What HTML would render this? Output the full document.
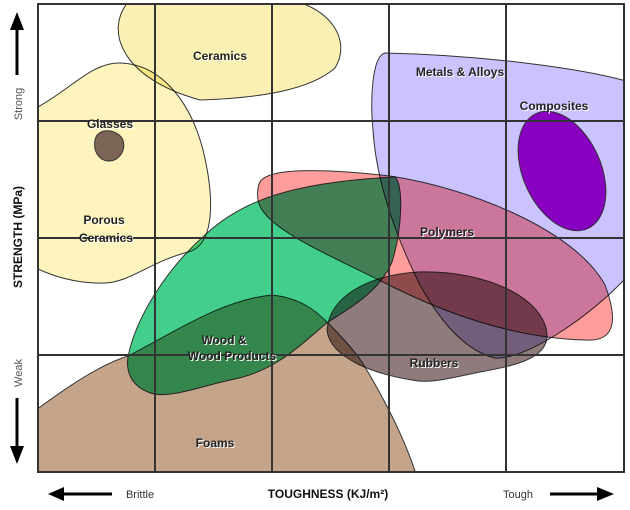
<!DOCTYPE html>
<html><head><meta charset="utf-8"><style>
html,body{margin:0;padding:0;background:#fff;width:630px;height:510px;overflow:hidden}
svg text{font-family:"Liberation Sans",sans-serif}
.l{font-weight:bold;font-size:12px;fill:#222;paint-order:stroke;stroke:#fff;stroke-width:0}
.sh{fill:#fff}
</style></head><body>
<svg width="630" height="510" viewBox="0 0 630 510" xmlns="http://www.w3.org/2000/svg">
<defs>
<clipPath id="plot"><rect x="38" y="4" width="586" height="468"/></clipPath>
</defs>
<g clip-path="url(#plot)" stroke="#333" stroke-width="1">
<g style="isolation:isolate">
<!-- Ceramics -->
<path d="M128,2 C105,30 120,78 200,100 C260,98 310,90 335,68 C352,40 330,8 290,0 Z" fill="#fbf0b4" style="mix-blend-mode:multiply"/>
<!-- Porous ceramics -->
<path d="M36,108 C70,90 92,62 120,63 C160,64 190,100 203,150 C214,195 216,245 188,252 C150,262 130,282 105,283 C75,284 50,275 36,268 Z" fill="#fdf5bd" style="mix-blend-mode:multiply"/>
<!-- Glasses -->
<path d="M95,140 C97,128 115,128 122,138 C128,150 118,162 108,161 C98,160 93,150 95,140 Z" fill="#7c6456"/>
<!-- Metals & Alloys -->
<path d="M385,53 C372,56 370,100 373,130 C376,180 395,235 420,285 C445,330 470,352 495,358 C525,360 585,320 624,280 L626,81 C580,68 480,55 385,53 Z" fill="#cbc3ff" style="mix-blend-mode:multiply"/>
<!-- Composites -->
<ellipse cx="562" cy="171" rx="39" ry="63" transform="rotate(-24 562 171)" fill="#8800c0"/>
<!-- Polymers -->
<path d="M260,182 C268,168 320,168 390,176 C470,188 575,230 605,285 C620,325 612,342 585,340 C510,338 440,310 395,288 C330,255 262,228 258,200 C257,192 258,186 260,182 Z" fill="#ff9c9c" style="mix-blend-mode:multiply"/>
<!-- Foams -->
<path d="M36,410 C70,385 100,365 128,356 C170,335 220,300 272,295 C300,298 315,310 328,323 C345,340 355,352 362,362 C385,400 405,440 416,474 L36,474 Z" fill="#c4a58c" style="mix-blend-mode:multiply"/>
<!-- Wood -->
<path d="M128,357 C135,320 165,270 205,235 C240,202 290,182 395,177 C404,185 402,230 392,262 C380,290 355,305 328,322 C300,345 275,372 230,380 C195,388 165,400 148,392 C130,385 126,370 128,357 Z" fill="#43cf8b" style="mix-blend-mode:multiply"/>
<!-- Rubbers -->
<path d="M327,330 C330,295 370,275 418,272 C490,270 545,300 547,335 C548,358 515,366 480,372 C450,378 430,384 412,380 C380,375 330,360 327,330 Z" fill="#8f7b7b" style="mix-blend-mode:multiply"/>
</g>
</g>
<!-- grid -->
<g stroke="#333" stroke-width="2" fill="none">
<rect x="38" y="4" width="586" height="468"/>
<line x1="155" y1="4" x2="155" y2="472"/>
<line x1="272" y1="4" x2="272" y2="472"/>
<line x1="389" y1="4" x2="389" y2="472"/>
<line x1="506" y1="4" x2="506" y2="472"/>
<line x1="38" y1="121" x2="624" y2="121"/>
<line x1="38" y1="238" x2="624" y2="238"/>
<line x1="38" y1="355" x2="624" y2="355"/>
</g>
<!-- labels -->
<g class="l" text-anchor="middle" style="filter:drop-shadow(1px 1px 0 #fff)">
<text x="220" y="60">Ceramics</text>
<text x="110" y="128">Glasses</text>
<text x="104" y="224">Porous</text>
<text x="106" y="242">Ceramics</text>
<text x="460" y="76">Metals &amp; Alloys</text>
<text x="554" y="110">Composites</text>
<text x="447" y="236">Polymers</text>
<text x="224" y="344">Wood &amp;</text>
<text x="232" y="360">Wood Products</text>
<text x="434" y="367">Rubbers</text>
<text x="215" y="447">Foams</text>
</g>
<!-- axes -->
<g fill="#000">
<line x1="17" y1="26" x2="17" y2="75" stroke="#000" stroke-width="3"/>
<polygon points="10,30 24,30 17,12"/>
<line x1="17" y1="398" x2="17" y2="450" stroke="#000" stroke-width="3"/>
<polygon points="10,446 24,446 17,464"/>
<line x1="64" y1="494" x2="112" y2="494" stroke="#000" stroke-width="3"/>
<polygon points="64,487 64,501 48,494"/>
<line x1="550" y1="494" x2="598" y2="494" stroke="#000" stroke-width="3"/>
<polygon points="597,487 597,501 614,494"/>
</g>
<text x="0" y="0" transform="translate(22,104) rotate(-90)" text-anchor="middle" font-size="11" fill="#555">Strong</text>
<text x="0" y="0" transform="translate(22,373) rotate(-90)" text-anchor="middle" font-size="11" fill="#555">Weak</text>
<text x="0" y="0" transform="translate(22,237) rotate(-90)" text-anchor="middle" font-size="12" font-weight="bold" fill="#111">STRENGTH (MPa)</text>
<text x="140" y="498" text-anchor="middle" font-size="11" fill="#333">Brittle</text>
<text x="518" y="498" text-anchor="middle" font-size="11" fill="#333">Tough</text>
<text x="328" y="498" text-anchor="middle" font-size="12" font-weight="bold" fill="#111">TOUGHNESS (KJ/m²)</text>
</svg>
</body></html>
